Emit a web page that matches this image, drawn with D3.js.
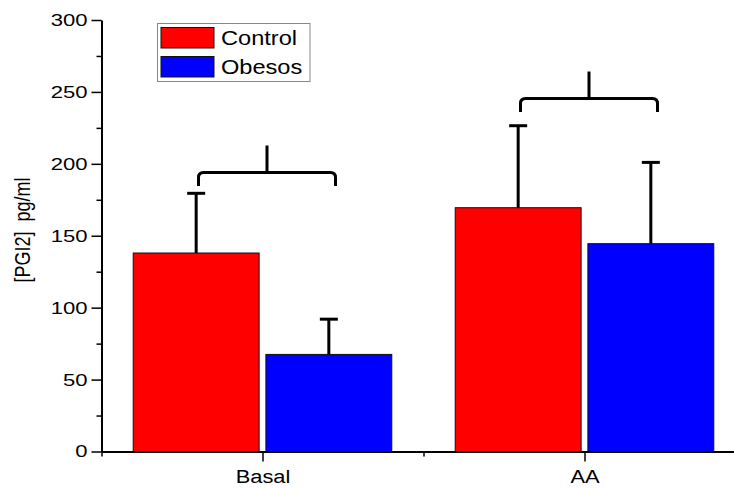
<!DOCTYPE html>
<html>
<head>
<meta charset="utf-8">
<script src="https://cdn.jsdelivr.net/npm/d3@7"></script>
<style>
  body { margin: 0; background: #fff; }
  text { font-family: Arial, 'Liberation Sans', sans-serif; fill: #000; }
</style>
</head>
<body>
<div id="chart"></div>
<script>
// data
var categories = ['Basal', 'AA']
var groups = ['Control', 'Obesos']
var controlMeans = [138, 169.5]
var controlSD = [41.5, 57]
var obesosMeans = [67.5, 144.5]
var obesosSD = [24.5, 56.5]
var bracketLevels = [194, 245.5]
var yTicks = [0, 50, 100, 150, 200, 250, 300]

var colors = ['#ff0000', '#0000ff']

var width = 734
var height = 489

var svg = d3
  .select('#chart')
  .append('svg')
  .attr('width', width)
  .attr('height', height)

var x = d3.scaleLinear().domain([0.5, 2.5]).range([101.5, 745.5])
var y = d3.scaleLinear().domain([0, 300]).range([451.5, 20])

var barW = 0.391
var gap = 0.0105

var bars = []
categories.forEach(function(c, i) {
  var pos = i + 1
  bars.push({cat: c, g: 0, x0: pos - gap - barW, x1: pos - gap, mean: controlMeans[i], sd: controlSD[i]})
  bars.push({cat: c, g: 1, x0: pos + gap, x1: pos + gap + barW, mean: obesosMeans[i], sd: obesosSD[i]})
})

// bars
svg
  .selectAll('.bar')
  .data(bars)
  .enter()
  .append('rect')
  .attr('class', 'bar')
  .attr('x', d => x(d.x0))
  .attr('width', d => x(d.x1) - x(d.x0))
  .attr('y', d => y(d.mean))
  .attr('height', d => y(0) - y(d.mean))
  .attr('fill', d => colors[d.g])
  .attr('stroke', '#111')
  .attr('stroke-width', 1)

// error bars (upper only)
var errs = svg.selectAll('.err').data(bars).enter().append('g').attr('class', 'err')
errs
  .append('line')
  .attr('x1', d => x((d.x0 + d.x1) / 2))
  .attr('x2', d => x((d.x0 + d.x1) / 2))
  .attr('y1', d => y(d.mean))
  .attr('y2', d => y(d.mean + d.sd))
  .attr('stroke', '#000')
  .attr('stroke-width', 3)
errs
  .append('line')
  .attr('x1', d => x((d.x0 + d.x1) / 2) - 9)
  .attr('x2', d => x((d.x0 + d.x1) / 2) + 9)
  .attr('y1', d => y(d.mean + d.sd))
  .attr('y2', d => y(d.mean + d.sd))
  .attr('stroke', '#000')
  .attr('stroke-width', 3)

// significance brackets
categories.forEach(function(c, i) {
  var pos = i + 1
  var cx = (x(pos - gap - barW / 2) + x(pos + gap + barW / 2)) / 2 + 4.5
  var left = cx - 68.5
  var right = cx + 68.5
  var yh = y(bracketLevels[i])
  var r = 5
  var p = d3.path()
  p.moveTo(left, yh + 13.5)
  p.lineTo(left, yh + r)
  p.quadraticCurveTo(left, yh, left + r, yh)
  p.lineTo(right - r, yh)
  p.quadraticCurveTo(right, yh, right, yh + r)
  p.lineTo(right, yh + 13.5)
  p.moveTo(cx, yh)
  p.lineTo(cx, yh - 27)
  svg
    .append('path')
    .attr('d', p.toString())
    .attr('fill', 'none')
    .attr('stroke', '#000')
    .attr('stroke-width', 3)
})

// y axis
var yAxis = svg
  .append('g')
  .attr('transform', 'translate(' + x(0.5) + ',0)')
  .call(d3.axisLeft(y).tickValues(yTicks).tickSize(10).tickPadding(5).tickSizeOuter(0))
svg
  .append('g')
  .attr('transform', 'translate(' + x(0.5) + ',0)')
  .call(d3.axisLeft(y).tickValues(d3.range(25, 300, 50)).tickSize(5).tickFormat('').tickSizeOuter(0))
  .select('.domain')
  .remove()
yAxis.select('.domain').attr('stroke-width', 2)
yAxis
  .selectAll('text')
  .attr('font-size', 17)
  .attr('x', 0)
  .attr('transform', 'translate(-14,0) scale(1.3,1)')
  .style('font-family', 'Arial, Liberation Sans, sans-serif')

// x axis
var xAxis = svg
  .append('g')
  .attr('transform', 'translate(0,' + y(0) + ')')
  .call(
    d3
      .axisBottom(x)
      .tickValues([1, 2])
      .tickSize(10)
      .tickPadding(8)
      .tickSizeOuter(0)
      .tickFormat((d, i) => categories[i])
  )
svg
  .append('g')
  .attr('transform', 'translate(0,' + y(0) + ')')
  .call(d3.axisBottom(x).tickValues([0.5, 1.5, 2.5]).tickSize(5).tickFormat('').tickSizeOuter(0))
  .select('.domain')
  .remove()
xAxis.select('.domain').attr('stroke-width', 2)
xAxis
  .selectAll('text')
  .attr('font-size', 19)
  .attr('transform', 'scale(1.15,1)')
  .style('font-family', 'Arial, Liberation Sans, sans-serif')
svg.selectAll('.tick line').attr('stroke-width', 1.5)

// y label
svg
  .append('text')
  .attr('transform', 'translate(30,230) rotate(-90) scale(1,1.25)')
  .attr('text-anchor', 'middle')
  .attr('font-size', 18)
  .style('white-space', 'pre')
  .text('[PGI2]  pg/ml')

// legend
var legend = svg.append('g')
legend
  .append('rect')
  .attr('x', 157.5)
  .attr('y', 23.5)
  .attr('width', 152.5)
  .attr('height', 58)
  .attr('fill', '#fff')
  .attr('stroke', '#888')
  .attr('stroke-width', 1)
groups.forEach(function(g, i) {
  legend
    .append('rect')
    .attr('x', 161)
    .attr('y', 27.5 + i * 29)
    .attr('width', 53)
    .attr('height', 20.5)
    .attr('fill', colors[i])
    .attr('stroke', '#111')
    .attr('stroke-width', 1)
  legend
    .append('text')
    .attr('transform', 'translate(221,' + (44.5 + i * 29) + ') scale(1.18,1)')
    .attr('font-size', 20)
    .text(g)
})
</script>
</body>
</html>
